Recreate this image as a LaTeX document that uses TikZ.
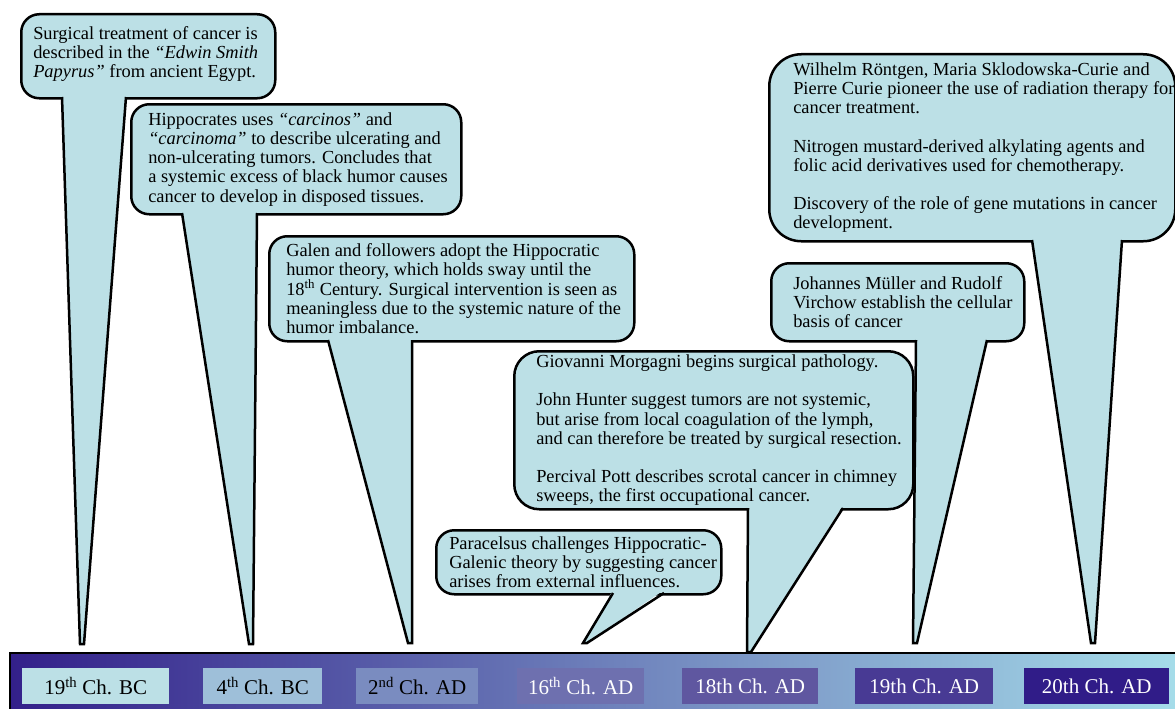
\documentclass[tikz,border=0pt]{standalone}
\usepackage{fontspec}
\setmainfont{Liberation Serif}
\usepackage{tikz}
\usetikzlibrary{calc}
\definecolor{callfill}{HTML}{BCE0E6}
\definecolor{barleft}{HTML}{33208A}
\definecolor{barmid}{HTML}{5E63A8}
\definecolor{barright}{HTML}{A6DDEA}
\definecolor{era1}{HTML}{BCE0E6}
\definecolor{era2}{HTML}{9EBFD9}
\definecolor{era3}{HTML}{7A8CC0}
\definecolor{era4}{HTML}{6E70AF}
\definecolor{era5}{HTML}{5F57A0}
\definecolor{era6}{HTML}{483A94}
\definecolor{era7}{HTML}{301C88}

\begin{document}
\begin{tikzpicture}[x=1pt, y=-1pt, line width=2.5pt,
  box/.style = {draw, fill=callfill, rounded corners=18pt, inner sep=0pt, anchor=north west},
  txt/.style = {anchor=west, align=left, inner sep=0pt, font=\fontsize{18.4}{19.2}\selectfont},
  era/.style = {minimum height=36pt, inner sep=0pt, anchor=north west, font=\fontsize{21}{24}\selectfont}]
\useasboundingbox (0,0) rectangle (1175,709);

\node[box, minimum width=254pt, minimum height=84pt] (c1) at (20,13) {};
\coordinate (p1) at (82,644);
\fill[callfill] (62,94) -- ($(p1)+(-2,0)$) -- ($(p1)+(2,0)$) -- (126,94) -- cycle;
\draw (62,97) -- ($(p1)+(-2,0)$) -- ($(p1)+(2,0)$) -- (126,97);
\node[txt] (t1) at ($(c1.west)+(12,-2)$) {Surgical treatment of cancer is\\ described in the \textit{“Edwin Smith}\\ \textit{Papyrus”} from ancient Egypt.};

\node[box, minimum width=330pt, minimum height=110pt] (c2) at (130,103) {};
\coordinate (p2) at (251,644);
\fill[callfill] (182,210) -- ($(p2)+(-2,0)$) -- ($(p2)+(2,0)$) -- (257,210) -- cycle;
\draw (182,213) -- ($(p2)+(-2,0)$) -- ($(p2)+(2,0)$) -- (257,213);
\node[txt] (t2) at ($(c2.west)+(17,0)$) {Hippocrates uses \textit{“carcinos”} and\\ \textit{“carcinoma”} to describe ulcerating and\\ non-ulcerating tumors. Concludes that\\ a systemic excess of black humor causes\\ cancer to develop in disposed tissues.};

\node[box, minimum width=365pt, minimum height=105pt] (c3) at (268,235) {};
\coordinate (p3) at (410,643);
\fill[callfill] (328,337) -- ($(p3)+(-2,0)$) -- ($(p3)+(2,0)$) -- (412,337) -- cycle;
\draw (328,340) -- ($(p3)+(-2,0)$) -- ($(p3)+(2,0)$) -- (412,340);
\node[txt] (t3) at ($(c3.west)+(17,0)$) {Galen and followers adopt the Hippocratic\\ humor theory, which holds sway until the\\ 18\textsuperscript{th} Century. Surgical intervention is seen as\\ meaningless due to the systemic nature of the\\ humor imbalance.};

\node[box, rounded corners=25pt, minimum width=399pt, minimum height=158pt] (c4) at (513,350) {};
\coordinate (p4) at (749,652);
\fill[callfill] (748,505) -- ($(p4)+(-2,0)$) -- ($(p4)+(2,0)$) -- (843,505) -- cycle;
\draw (748,508) -- ($(p4)+(-2,0)$) -- ($(p4)+(2,0)$) -- (843,508);
\node[txt] (t4) at ($(c4.west)+(22,0)$) {Giovanni Morgagni begins surgical pathology.\\[19pt] John Hunter suggest tumors are not systemic,\\ but arise from local coagulation of the lymph,\\ and can therefore be treated by surgical resection.\\[19pt] Percival Pott describes scrotal cancer in chimney\\ sweeps, the first occupational cancer.};

\node[box, minimum width=285pt, minimum height=64pt] (c5) at (435,529) {};
\coordinate (p5) at (585,643);
\fill[callfill] (613,590) -- ($(p5)+(-2,0)$) -- ($(p5)+(2,0)$) -- (664,590) -- cycle;
\draw (613,593) -- ($(p5)+(-2,0)$) -- ($(p5)+(2,0)$) -- (664,593);
\node[txt] (t5) at ($(c5.west)+(13,0)$) {Paracelsus challenges Hippocratic-\\ Galenic theory by suggesting cancer\\ arises from external influences.};

\node[box, minimum width=253pt, minimum height=78pt] (c6) at (770,262) {};
\coordinate (p6) at (915,643);
\fill[callfill] (916,337) -- ($(p6)+(-2,0)$) -- ($(p6)+(2,0)$) -- (987,337) -- cycle;
\draw (916,340) -- ($(p6)+(-2,0)$) -- ($(p6)+(2,0)$) -- (987,340);
\node[txt] (t6) at ($(c6.west)+(22,0)$) {Johannes Müller and Rudolf\\ Virchow establish the cellular\\ basis of cancer};

\node[box, rounded corners=32pt, minimum width=406pt, minimum height=187pt] (c7) at (768,53) {};
\coordinate (p7) at (1093,643);
\fill[callfill] (1032,237) -- ($(p7)+(-2,0)$) -- ($(p7)+(2,0)$) -- (1122,237) -- cycle;
\draw (1032,240) -- ($(p7)+(-2,0)$) -- ($(p7)+(2,0)$) -- (1122,240);
\node[txt] (t7) at ($(c7.west)+(24,0)$) {Wilhelm Röntgen, Maria Sklodowska-Curie and\\ Pierre Curie pioneer the use of radiation therapy for\\ cancer treatment.\\[19pt] Nitrogen mustard-derived alkylating agents and\\ folic acid derivatives used for chemotherapy.\\[19pt] Discovery of the role of gene mutations in cancer\\ development.};

\shade[left color=barleft, middle color=barmid, right color=barright] (10,653) rectangle (1180,712);
\draw (10,712) -- (10,653) -- (1180,653);

\node[era, fill=era1, minimum width=147pt] (d1) at (21,667) {19\textsuperscript{th} Ch. BC};
\node[era, fill=era2, minimum width=119pt] (d2) at (202,667) {4\textsuperscript{th} Ch. BC};
\node[era, fill=era3, minimum width=122pt] (d3) at (355,667) {2\textsuperscript{nd} Ch. AD};
\node[era, fill=era4, minimum width=127pt, text=white] (d4) at (516,667) {16\textsuperscript{th} Ch. AD};
\node[era, fill=era5, minimum width=136pt, text=white] (d5) at (681,667) {18th Ch. AD};
\node[era, fill=era6, minimum width=138pt, text=white] (d6) at (854,667) {19th Ch. AD};
\node[era, fill=era7, minimum width=145pt, text=white] (d7) at (1023,667) {20th Ch. AD};
\end{tikzpicture}
\end{document}
